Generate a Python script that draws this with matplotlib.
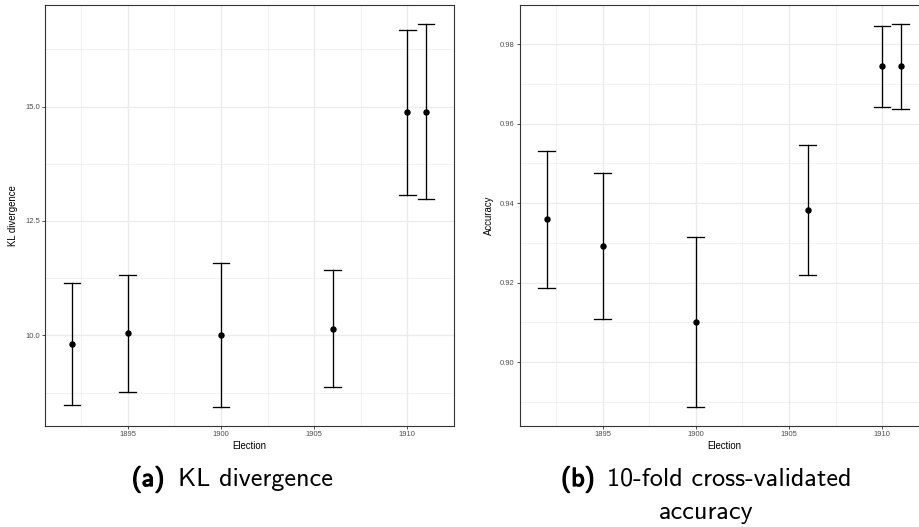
import matplotlib
matplotlib.use("Agg")
import matplotlib.pyplot as plt
import matplotlib.patheffects as pe
from matplotlib.ticker import MultipleLocator

# Election years and per-election estimates (mean with interval ends)
elections = [1892, 1895, 1900, 1906, 1910, 1911]

kl_mean = [9.81, 10.05, 10.01, 10.15, 14.87, 14.89]
kl_low = [8.48, 8.77, 8.44, 8.87, 13.06, 12.98]
kl_high = [11.14, 11.33, 11.59, 11.43, 16.67, 16.80]

acc_mean = [0.9360, 0.9292, 0.9101, 0.9382, 0.9745, 0.9745]
acc_low = [0.9187, 0.9109, 0.8887, 0.9218, 0.9643, 0.9638]
acc_high = [0.9532, 0.9475, 0.9314, 0.9546, 0.9847, 0.9851]

x_ticks = [1895, 1900, 1905, 1910]
cap_half = 0.45

W, H = 919, 527
fig = plt.figure(figsize=(W / 100, H / 100), dpi=100)

border = "#333333"
grid_col = "#EBEBEB"


def expand(lo, hi, frac=0.05):
    pad = (hi - lo) * frac
    return lo - pad, hi + pad


def panel(ax, mean, low, high, ystep, yfmt, ylabel, ylab_x):
    ax.set_facecolor("white")
    for x, m, lo, hi in zip(elections, mean, low, high):
        ax.plot([x, x], [lo, hi], color="black", lw=0.95, zorder=3)
        ax.plot([x - cap_half, x + cap_half], [lo, lo], color="black", lw=0.95, zorder=3)
        ax.plot([x - cap_half, x + cap_half], [hi, hi], color="black", lw=0.95, zorder=3)
    ax.plot(elections, mean, "o", color="black", ms=3.6, zorder=4)

    ax.set_xlim(*expand(min(elections) - cap_half, max(elections) + cap_half))
    ax.set_ylim(*expand(min(low), max(high)))

    ax.set_xticks(x_ticks)
    ax.set_xticks([t + 2.5 for t in [1890] + x_ticks], minor=True)
    ax.yaxis.set_major_locator(MultipleLocator(ystep))
    ax.yaxis.set_minor_locator(MultipleLocator(ystep / 2))
    ax.yaxis.set_major_formatter(yfmt)

    ax.grid(True, which="major", color=grid_col, lw=1.0, zorder=0)
    ax.grid(True, which="minor", color=grid_col, lw=0.5, zorder=0)
    ax.set_axisbelow(True)

    ax.tick_params(which="major", length=2, width=0.6, color=border,
                   labelsize=5.5, labelcolor="#4D4D4D", pad=1.5)
    ax.tick_params(which="minor", length=0)
    for s in ax.spines.values():
        s.set_color(border)
        s.set_linewidth(0.8)

    ax.set_xlabel("Election", fontsize=6.9, family="Liberation Sans")
    ax.set_ylabel(ylabel, fontsize=6.9, family="Liberation Sans")
    ax.xaxis.set_label_coords(0.5, -0.036)
    ax.yaxis.set_label_coords(ylab_x, 0.5)
    for lab in ax.get_xticklabels() + ax.get_yticklabels():
        lab.set_family("Liberation Sans")


ax1 = fig.add_axes([45 / W, (H - 426) / H, 409 / W, 421 / H])
panel(ax1, kl_mean, kl_low, kl_high, 2.5, "{x:.1f}", "KL divergence", -0.065)

ax2 = fig.add_axes([519.7 / W, (H - 426) / H, 409 / W, 421 / H])
panel(ax2, acc_mean, acc_low, acc_high, 0.02, "{x:.2f}", "Accuracy", -0.064)

# Sub-figure captions
cap_font = dict(family="cmss10", fontsize=18.8, va="baseline")
bold = [pe.withStroke(linewidth=0.9, foreground="black")]

y1 = (H - 486) / H
y2 = (H - 518.5) / H
fig.text(131.7 / W, y1, "(a)", ha="left", path_effects=bold, **cap_font)
fig.text(178 / W, y1, "KL divergence", ha="left", **cap_font)
fig.text(561 / W, y1, "(b)", ha="left", path_effects=bold, **cap_font)
fig.text(607 / W, y1, "10-fold cross-validated", ha="left", **cap_font)
fig.text(706.5 / W, y2, "accuracy", ha="center", **cap_font)

fig.savefig("out.png", dpi=100)
